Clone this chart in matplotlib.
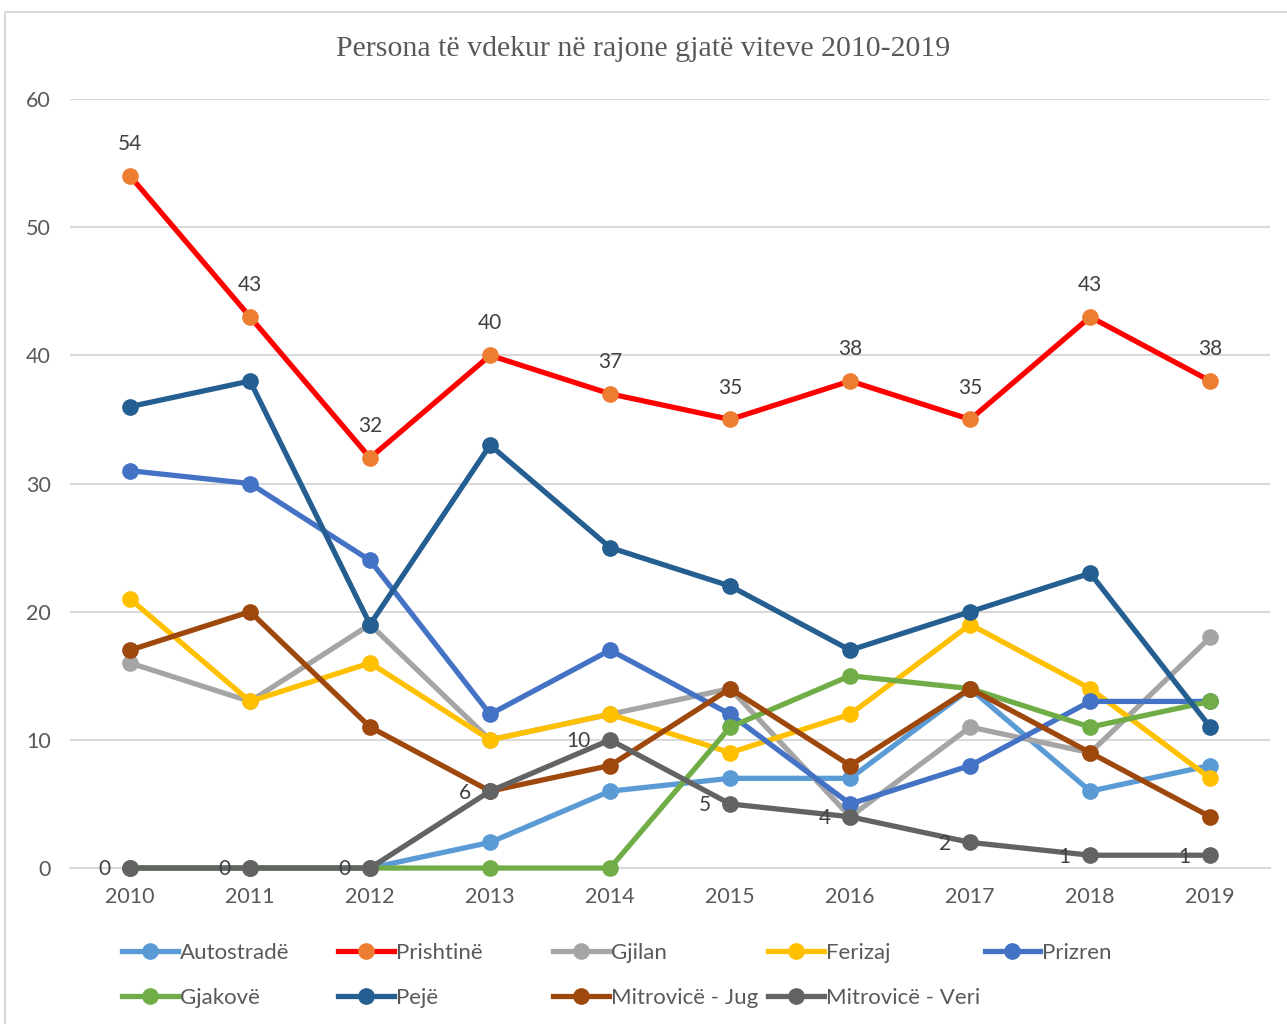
import matplotlib
matplotlib.use("Agg")
import matplotlib.pyplot as plt
from matplotlib.patches import Rectangle

years = ["2010", "2011", "2012", "2013", "2014", "2015", "2016", "2017", "2018", "2019"]

autostrade = [0, 0, 0, 2, 6, 7, 7, 14, 6, 8]
prishtine = [54, 43, 32, 40, 37, 35, 38, 35, 43, 38]
gjilan = [16, 13, 19, 10, 12, 14, 4, 11, 9, 18]
ferizaj = [21, 13, 16, 10, 12, 9, 12, 19, 14, 7]
prizren = [31, 30, 24, 12, 17, 12, 5, 8, 13, 13]
gjakove = [0, 0, 0, 0, 0, 11, 15, 14, 11, 13]
peje = [36, 38, 19, 33, 25, 22, 17, 20, 23, 11]
mitrovice_jug = [17, 20, 11, 6, 8, 14, 8, 14, 9, 4]
mitrovice_veri = [0, 0, 0, 6, 10, 5, 4, 2, 1, 1]

series = [
    ("Autostradë", autostrade, "#5B9BD5", "#5B9BD5"),
    ("Prishtinë", prishtine, "#FF0000", "#ED7D31"),
    ("Gjilan", gjilan, "#A5A5A5", "#A5A5A5"),
    ("Ferizaj", ferizaj, "#FFC000", "#FFC000"),
    ("Prizren", prizren, "#4472C4", "#4472C4"),
    ("Gjakovë", gjakove, "#70AD47", "#70AD47"),
    ("Pejë", peje, "#255E91", "#255E91"),
    ("Mitrovicë - Jug", mitrovice_jug, "#9E480E", "#9E480E"),
    ("Mitrovicë - Veri", mitrovice_veri, "#636363", "#636363"),
]

txt = "#595959"
grid = "#D9D9D9"

fig = plt.figure(figsize=(12.87, 10.24), dpi=100)
fig.patches.append(Rectangle((0.004, -0.01), 1.2, 0.998, transform=fig.transFigure,
                             fill=False, edgecolor=grid, lw=1.5))
ax = fig.add_axes([0.0544, 0.1523, 0.9326, 0.751])

x = range(len(years))
handles = []
for name, vals, lc, mc in series:
    ln, = ax.plot(x, vals, color=lc, lw=3.8, marker="o", ms=11,
                  markerfacecolor=mc, markeredgecolor=mc, label=name,
                  clip_on=False, zorder=3)
    handles.append(ln)

for i, v in enumerate(prishtine):
    ax.annotate(str(v), (i, v), xytext=(0, 23), textcoords="offset points",
                ha="center", va="center", fontsize=15, color="#404040", family="Lato")
for i, v in enumerate(mitrovice_veri):
    ax.annotate(str(v), (i, v), xytext=(-14, -1), textcoords="offset points",
                ha="right", va="center", fontsize=15, color="#404040", family="Lato")

ax.set_xlim(-0.5, len(years) - 0.5)
ax.set_ylim(0, 60)
ax.set_yticks(range(0, 61, 10))
ax.set_xticks(list(x))
ax.set_xticklabels(years)
ax.grid(axis="y", color=grid, lw=1.5)
ax.set_axisbelow(True)
for s in ["top", "right", "left"]:
    ax.spines[s].set_visible(False)
ax.spines["bottom"].set_color(grid)
ax.spines["bottom"].set_linewidth(1.5)
ax.spines["bottom"].set_zorder(1)
ax.tick_params(length=0, labelsize=15.5, colors=txt)
ax.tick_params(axis="y", pad=14)
ax.tick_params(axis="x", pad=14)
for lab in ax.get_xticklabels() + ax.get_yticklabels():
    lab.set_family("Lato")

fig.text(0.5, 0.952, "Persona të vdekur në rajone gjatë viteve 2010-2019",
         ha="center", va="center", fontsize=21.5, color=txt, family="Liberation Serif")

# legend: 5 equal-width columns, 2 rows
col_x = [0.095, 0.263, 0.43, 0.597, 0.765]
for c in range(5):
    hs = [handles[c]] + ([handles[c + 5]] if c + 5 < len(handles) else [])
    leg = fig.legend(handles=hs, loc="upper left", bbox_to_anchor=(col_x[c], 0.079),
                     frameon=False, handlelength=2.5, handletextpad=0.1,
                     labelspacing=1.1, borderaxespad=0, borderpad=0,
                     prop={"family": "Lato", "size": 16})
    for t in leg.get_texts():
        t.set_color(txt)

fig.savefig("out.png", dpi=100)
